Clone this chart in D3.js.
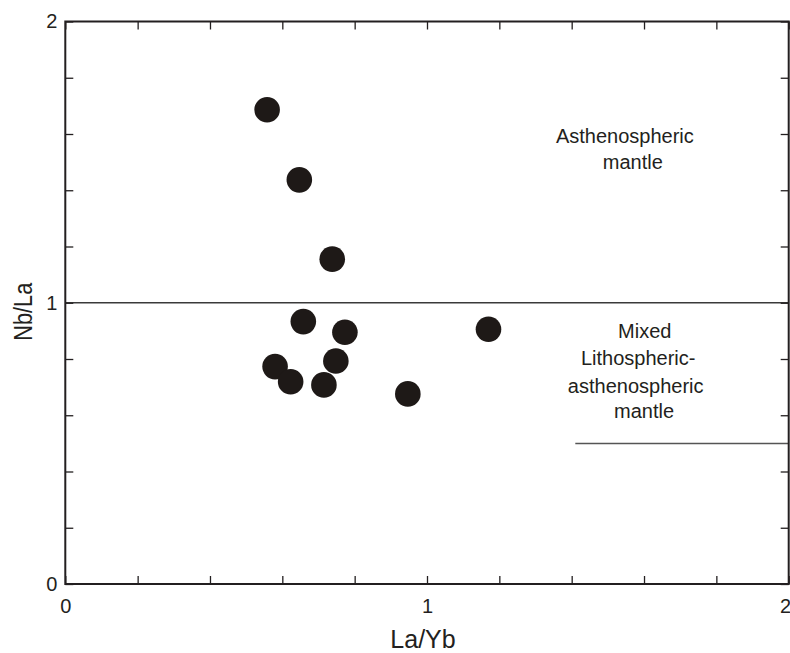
<!DOCTYPE html>
<html>
<head>
<meta charset="utf-8">
<script src="https://cdn.jsdelivr.net/npm/d3@7"></script>
<style>
  body { margin: 0; background: #fff; }
  text { font-family: "Liberation Sans", Arial, sans-serif; fill: #231f20; }
</style>
</head>
<body>
<div id="chart"></div>
<script>
const width = 790;
const height = 653;
const margin = { top: 21.5, right: 1.3, bottom: 69, left: 65.3 };

// sample values
const laYb = [0.558, 0.647, 0.738, 0.658, 0.773, 0.580, 0.623, 0.748, 0.715, 0.947, 1.170];
const nbLa = [1.686, 1.437, 1.155, 0.933, 0.895, 0.773, 0.719, 0.793, 0.708, 0.676, 0.906];

const tickValues = [0, 0.2, 0.4, 0.6, 0.8, 1, 1.2, 1.4, 1.6, 1.8, 2];
const tickLabels = [0, 1, 2];

// field labels (lines, positioned in data units)
const asthLines = ["Asthenospheric", "mantle"];
const asthX = [1.547, 1.569];
const asthY = [1.567, 1.475];
const mixedLines = ["Mixed", "Lithospheric-", "asthenospheric", "mantle"];
const mixedX = [1.602, 1.584, 1.577, 1.600];
const mixedY = [0.874, 0.779, 0.680, 0.589];

const svg = d3.select("#chart").append("svg")
  .attr("width", width)
  .attr("height", height);

const x = d3.scaleLinear().domain([0, 2]).range([margin.left, width - margin.right]);
const y = d3.scaleLinear().domain([0, 2]).range([height - margin.bottom, margin.top]);

const fmt = d => tickLabels.includes(d) ? d : "";

// boundary lines
svg.append("line")
  .attr("x1", x(0)).attr("x2", x(2))
  .attr("y1", y(1)).attr("y2", y(1))
  .attr("stroke", "#3a3a3a").attr("stroke-width", 1.5);

svg.append("line")
  .attr("x1", x(1.41)).attr("x2", x(2))
  .attr("y1", y(0.5)).attr("y2", y(0.5))
  .attr("stroke", "#555").attr("stroke-width", 1.5);

// axes (ticks point inward)
const styleAxis = g => {
  g.select(".domain").remove();
  g.selectAll(".tick line").attr("stroke", "#231f20").attr("stroke-width", 1.3);
  g.selectAll(".tick text").style("font-size", "20px").attr("fill", "#231f20");
};

const xAxis = svg.append("g")
  .attr("transform", `translate(0,${y(0)})`)
  .call(d3.axisBottom(x).tickValues(tickValues).tickSize(-8).tickPadding(15).tickFormat(fmt))
  .call(styleAxis);

// last label sits against the right edge; keep it inside the page
xAxis.selectAll(".tick text")
  .filter(d => d === 2)
  .attr("text-anchor", "end")
  .attr("x", 2);

svg.append("g")
  .attr("transform", `translate(0,${y(2)})`)
  .call(d3.axisTop(x).tickValues(tickValues).tickSize(-8).tickFormat(""))
  .call(styleAxis);

svg.append("g")
  .attr("transform", `translate(${x(0)},0)`)
  .call(d3.axisLeft(y).tickValues(tickValues).tickSize(-8).tickPadding(8).tickFormat(fmt))
  .call(styleAxis);

svg.append("g")
  .attr("transform", `translate(${x(2)},0)`)
  .call(d3.axisRight(y).tickValues(tickValues).tickSize(-8).tickFormat(""))
  .call(styleAxis);

// frame
svg.append("rect")
  .attr("x", x(0)).attr("y", y(2))
  .attr("width", x(2) - x(0)).attr("height", y(0) - y(2))
  .attr("fill", "none")
  .attr("stroke", "#231f20")
  .attr("stroke-width", 2);

// points
svg.append("g")
  .selectAll("circle")
  .data(laYb)
  .join("circle")
  .attr("cx", d => x(d))
  .attr("cy", (d, i) => y(nbLa[i]))
  .attr("r", 12.8)
  .attr("fill", "#1e1917");

// field annotations
svg.append("g")
  .selectAll("text")
  .data(asthLines)
  .join("text")
  .attr("x", (d, i) => x(asthX[i]))
  .attr("y", (d, i) => y(asthY[i]))
  .attr("text-anchor", "middle")
  .style("font-size", "20px")
  .text(d => d);

svg.append("g")
  .selectAll("text")
  .data(mixedLines)
  .join("text")
  .attr("x", (d, i) => x(mixedX[i]))
  .attr("y", (d, i) => y(mixedY[i]))
  .attr("text-anchor", "middle")
  .style("font-size", "20px")
  .text(d => d);

// axis titles
svg.append("text")
  .attr("x", (x(0) + x(2)) / 2 - 4)
  .attr("y", 648)
  .attr("text-anchor", "middle")
  .style("font-size", "25px")
  .text("La/Yb");

svg.append("text")
  .attr("transform", `translate(32,${(y(0) + y(2)) / 2 + 9}) rotate(-90)`)
  .attr("text-anchor", "middle")
  .attr("textLength", 58)
  .attr("lengthAdjust", "spacingAndGlyphs")
  .style("font-size", "26px")
  .text("Nb/La");
</script>
</body>
</html>
